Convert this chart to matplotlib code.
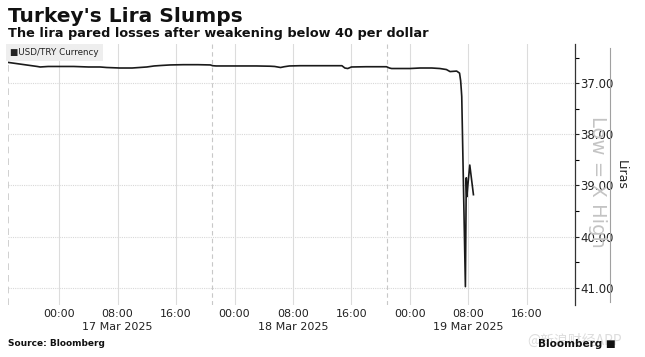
import matplotlib
matplotlib.use("Agg")
import matplotlib.pyplot as plt
from matplotlib.ticker import MultipleLocator, FormatStrFormatter
from datetime import datetime, timedelta

# ---- data (hours relative to 17 Mar 2025 00:00, USD/TRY) ----
hours = [-7.0, -5.5, -4.0, -3.0, -2.6, -1.5, 0, 2, 4, 5.6, 6.5, 8.3, 10, 11, 12,
         13, 14, 15.2, 17, 19, 20.7, 21.0, 21.5, 24, 27, 28.9, 29.5, 30.3, 30.8,
         31.5, 33, 36, 38.7, 39.1, 39.5, 40, 42, 44.8, 45.2, 45.5, 48, 49.4, 51,
         52.1, 53, 53.5, 54.4, 54.8, 54.95, 55.05, 55.1, 55.6, 55.72, 55.8, 55.9,
         56.2, 56.7]
usdtry = [36.59, 36.62, 36.65, 36.67, 36.68, 36.67, 36.67, 36.67, 36.68, 36.68,
          36.69, 36.70, 36.70, 36.69, 36.68, 36.66, 36.65, 36.64, 36.635, 36.635,
          36.64, 36.655, 36.66, 36.66, 36.66, 36.665, 36.67, 36.69, 36.675, 36.66,
          36.655, 36.655, 36.655, 36.70, 36.71, 36.68, 36.675, 36.675, 36.70,
          36.71, 36.71, 36.70, 36.70, 36.71, 36.73, 36.77, 36.76, 36.80, 36.95,
          37.15, 37.26, 40.98, 38.85, 39.22, 39.05, 38.60, 39.18]

base = datetime(2025, 3, 17)
times = [base + timedelta(hours=h) for h in hours]

tick_hours = [0, 8, 16, 24, 32, 40, 48, 56, 64]
tick_labels = ["00:00", "08:00\n17 Mar 2025", "16:00",
               "00:00", "08:00\n18 Mar 2025", "16:00",
               "00:00", "08:00\n19 Mar 2025", "16:00"]
session_hours = [20.9, 44.9]
xlim_hours = (-7.0, 70.6)
yticks = [37, 38, 39, 40, 41]

W, H = 645, 357
fig = plt.figure(figsize=(W / 100, H / 100), dpi=100)
ax = fig.add_axes([8 / W, 1 - 305 / H, (575 - 8) / W, (305 - 44) / H])

ax.plot(times, usdtry, color="#1a1a1a", lw=1.2, zorder=3)

ax.set_xlim(base + timedelta(hours=xlim_hours[0]), base + timedelta(hours=xlim_hours[1]))
ax.set_ylim(41.34, 36.23)

ax.set_xticks([base + timedelta(hours=h) for h in tick_hours])
ax.set_xticklabels(tick_labels, fontsize=8, color="#222222", linespacing=1.3)
ax.tick_params(axis="x", length=0, pad=3)

for h in session_hours:
    ax.axvline(base + timedelta(hours=h), color="#c8c8c8", lw=0.8, ls=(0, (4, 3)), zorder=1)
ax.axvline(base + timedelta(hours=xlim_hours[0]), color="#c8c8c8", lw=1.2, ls=(0, (4, 3)), zorder=1)
ax.grid(axis="x", color="#dcdcdc", lw=0.8, zorder=0)

ax.yaxis.tick_right()
ax.set_yticks(yticks)
ax.yaxis.set_minor_locator(MultipleLocator(0.5))
ax.yaxis.set_major_formatter(FormatStrFormatter("%.2f"))
ax.tick_params(axis="y", which="major", length=3, width=0.8, pad=1, labelsize=8.5,
               colors="#222222", direction="out")
ax.tick_params(axis="y", which="minor", length=3, width=0.8, direction="out")
for y in yticks:
    ax.axhline(y, color="#d8d8d8", lw=0.8, ls=(0, (1, 1)), zorder=0)

for s in ["left", "top", "bottom"]:
    ax.spines[s].set_visible(False)
ax.spines["right"].set_color("#333333")
ax.spines["right"].set_linewidth(0.9)

# legend box
ax.text(0.004, 0.985, "\u25a0USD/TRY Currency", transform=ax.transAxes, fontsize=6.3,
        va="top", ha="left", color="#222222",
        bbox=dict(boxstyle="square,pad=0.45", facecolor="#eeeeee", edgecolor="none"))

# right side elements
fig.add_artist(plt.Line2D([610 / W, 610 / W], [1 - 48 / H, 1 - 302 / H],
                          color="#a0a0a0", lw=0.8))
fig.text(621 / W, 1 - 175 / H, "Liras", rotation=270, fontsize=9, va="center",
         ha="center", color="#222222")
fig.text(597 / W, 1 - 182 / H, "Low = X High", rotation=270, fontsize=14, va="center",
         ha="center", color="#c4c4c4", zorder=0)

# titles
fig.text(8 / W, 1 - 16 / H, "Turkey's Lira Slumps", fontsize=14.5, fontweight="bold",
         va="center", ha="left", color="#111111")
fig.text(8 / W, 1 - 33 / H, "The lira pared losses after weakening below 40 per dollar",
         fontsize=9.3, fontweight="bold", va="center", ha="left", color="#111111")
fig.text(8 / W, 1 - 343 / H, "Source: Bloomberg", fontsize=6.5, fontweight="bold",
         va="center", ha="left", color="#111111")
fig.text(527 / W, 1 - 341 / H, "@新浪财经APP", fontsize=10, va="center", ha="left",
         color="#dddddd", family=["Noto Sans CJK SC", "DejaVu Sans"], zorder=0)
fig.text(616 / W, 1 - 344 / H, "Bloomberg \u25a0", fontsize=7.5, fontweight="bold",
         va="center", ha="right", color="#111111")

fig.savefig("out.png", dpi=100)
